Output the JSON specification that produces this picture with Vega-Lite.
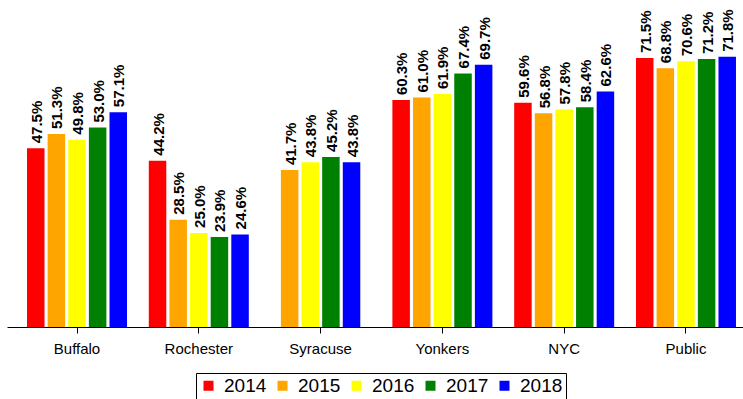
{
  "$schema": "https://vega.github.io/schema/vega-lite/v6.json",
  "autosize": {"type": "none"},
  "width": 736,
  "height": 301,
  "padding": {"left": 7, "top": 26, "right": 0, "bottom": 72},
  "config": {
    "view": {"stroke": null},
    "font": "Liberation Sans",
    "axis": {"labelFont": "Liberation Sans"},
    "legend": {"labelFont": "Liberation Sans"}
  },
  "datasets": {
    "cities": [
      {"city": "Buffalo", "year": "2014", "rate": 0.475},
      {"city": "Buffalo", "year": "2015", "rate": 0.513},
      {"city": "Buffalo", "year": "2016", "rate": 0.498},
      {"city": "Buffalo", "year": "2017", "rate": 0.530},
      {"city": "Buffalo", "year": "2018", "rate": 0.571},
      {"city": "Rochester", "year": "2014", "rate": 0.442},
      {"city": "Rochester", "year": "2015", "rate": 0.285},
      {"city": "Rochester", "year": "2016", "rate": 0.250},
      {"city": "Rochester", "year": "2017", "rate": 0.239},
      {"city": "Rochester", "year": "2018", "rate": 0.246},
      {"city": "Yonkers", "year": "2014", "rate": 0.603},
      {"city": "Yonkers", "year": "2015", "rate": 0.610},
      {"city": "Yonkers", "year": "2016", "rate": 0.619},
      {"city": "Yonkers", "year": "2017", "rate": 0.674},
      {"city": "Yonkers", "year": "2018", "rate": 0.697},
      {"city": "NYC", "year": "2014", "rate": 0.596},
      {"city": "NYC", "year": "2015", "rate": 0.568},
      {"city": "NYC", "year": "2016", "rate": 0.578},
      {"city": "NYC", "year": "2017", "rate": 0.584},
      {"city": "NYC", "year": "2018", "rate": 0.626},
      {"city": "Public", "year": "2014", "rate": 0.715},
      {"city": "Public", "year": "2015", "rate": 0.688},
      {"city": "Public", "year": "2016", "rate": 0.706},
      {"city": "Public", "year": "2017", "rate": 0.712},
      {"city": "Public", "year": "2018", "rate": 0.718}
    ],
    "syracuse": [
      {"city": "Syracuse", "year": "2015", "rate": 0.417},
      {"city": "Syracuse", "year": "2016", "rate": 0.438},
      {"city": "Syracuse", "year": "2017", "rate": 0.452},
      {"city": "Syracuse", "year": "2018", "rate": 0.438}
    ]
  },
  "encoding": {
    "x": {
      "field": "city",
      "type": "nominal",
      "sort": ["Buffalo", "Rochester", "Syracuse", "Yonkers", "NYC", "Public"],
      "scale": {
        "domain": ["Buffalo", "Rochester", "Syracuse", "Yonkers", "NYC", "Public"],
        "paddingInner": 0.179,
        "paddingOuter": 0.111,
        "align": 0.74
      },
      "axis": {
        "title": null,
        "labelAngle": 0,
        "labelFontSize": 15,
        "labelColor": "#000000",
        "labelPadding": 8,
        "domainColor": "#000000",
        "domainWidth": 1.2,
        "tickColor": "#000000",
        "tickSize": 6
      }
    },
    "y": {
      "field": "rate",
      "type": "quantitative",
      "scale": {"domain": [0, 0.8]},
      "axis": null
    }
  },
  "layer": [
    {
      "data": {"name": "cities"},
      "encoding": {
        "xOffset": {
          "field": "year",
          "type": "nominal",
          "scale": {
            "domain": ["2014", "2015", "2016", "2017", "2018"],
            "range": [0, 100],
            "paddingInner": 0.1515,
            "paddingOuter": 0
          }
        }
      },
      "layer": [
        {
          "mark": {"type": "bar"},
          "encoding": {
            "color": {
              "field": "year",
              "type": "nominal",
              "scale": {
                "domain": ["2014", "2015", "2016", "2017", "2018"],
                "range": ["#FF0000", "#FFA500", "#FFFF00", "#008000", "#0000FF"]
              },
              "legend": {
                "title": null,
                "orient": "none",
                "legendX": 189,
                "legendY": 347,
                "direction": "horizontal",
                "columns": 5,
                "symbolType": "square",
                "symbolSize": 100,
                "symbolStrokeWidth": 0,
                "symbolOpacity": 1,
                "labelFontSize": 19,
                "labelColor": "#000000",
                "labelOffset": 6,
                "columnPadding": 6,
                "padding": 3,
                "strokeColor": "#000000",
                "fillColor": "#FFFFFF",
                "cornerRadius": 0
              }
            }
          }
        },
        {
          "mark": {
            "type": "text",
            "angle": 270,
            "align": "left",
            "baseline": "middle",
            "dx": 5,
            "dy": 1,
            "fontSize": 15,
            "fontWeight": "bold",
            "color": "#000000"
          },
          "encoding": {
            "text": {"field": "rate", "type": "quantitative", "format": ".1%"}
          }
        }
      ]
    },
    {
      "data": {"name": "syracuse"},
      "encoding": {
        "xOffset": {
          "field": "year",
          "type": "nominal",
          "scale": {
            "domain": ["2015", "2016", "2017", "2018"],
            "range": [10.3, 89.7],
            "paddingInner": 0.1515,
            "paddingOuter": 0
          }
        }
      },
      "layer": [
        {
          "mark": {"type": "bar"},
          "encoding": {
            "color": {"field": "year", "type": "nominal"}
          }
        },
        {
          "mark": {
            "type": "text",
            "angle": 270,
            "align": "left",
            "baseline": "middle",
            "dx": 5,
            "dy": 1,
            "fontSize": 15,
            "fontWeight": "bold",
            "color": "#000000"
          },
          "encoding": {
            "text": {"field": "rate", "type": "quantitative", "format": ".1%"}
          }
        }
      ]
    }
  ],
  "resolve": {"scale": {"xOffset": "independent"}}
}
